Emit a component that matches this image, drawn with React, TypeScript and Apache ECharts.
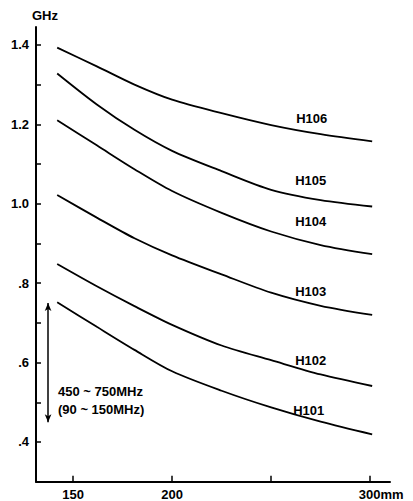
import React, { useEffect, useRef } from 'react';
import * as echarts from 'echarts';

// Pole length (mm) at which the curves are sampled
const lengthsMm = [142, 162, 181, 200, 225, 250, 275, 301];
const seriesNames = ['H101', 'H102', 'H103', 'H104', 'H105', 'H106'];
// Frequency (GHz)
const h101 = [0.752, 0.69, 0.632, 0.578, 0.529, 0.487, 0.451, 0.419];
const h102 = [0.848, 0.792, 0.742, 0.695, 0.643, 0.606, 0.57, 0.541];
const h103 = [1.022, 0.965, 0.913, 0.87, 0.822, 0.776, 0.743, 0.72];
const h104 = [1.21, 1.147, 1.087, 1.032, 0.977, 0.93, 0.896, 0.873];
const h105 = [1.328, 1.25, 1.186, 1.133, 1.082, 1.035, 1.009, 0.993];
const h106 = [1.393, 1.346, 1.3, 1.262, 1.228, 1.198, 1.175, 1.157];
const seriesValues = [h101, h102, h103, h104, h105, h106];

const yTickValues = [0.4, 0.5, 0.6, 0.7, 0.8, 0.9, 1.0, 1.1, 1.2, 1.3, 1.4];
const yLabelValues = [0.4, 0.6, 0.8, 1.0, 1.2, 1.4];
const xTickValues = [150, 200, 250, 300];
const xLabelValues = [150, 200, 300];

// range arrow: 450~750 MHz
const rangeLengthMm = 137.4;
const rangeGHz = [0.45, 0.75];
const rangeTexts = ['450 ~ 750MHz', '(90 ~ 150MHz)'];

// label anchor index along each curve and pixel offsets (style)
const labelIndex = 6;
const labelOffsets = [[-12, -11], [-10, -14], [-10, -14], [-10, -24], [-10, -20], [-9, -16]];

const FONT = '"Liberation Sans", Arial, sans-serif';

export default function App() {
  const ref = useRef<HTMLDivElement>(null);
  useEffect(() => {
    document.body.style.margin = '0';
    const chart = echarts.init(ref.current!, null, { renderer: 'svg' });
    const lineSeries = seriesNames.map((name, i) => ({
      type: 'line',
      name,
      data: lengthsMm.map((x, j) => [x, seriesValues[i][j]]),
      smooth: 0.3,
      showSymbol: false,
      lineStyle: { color: '#000', width: 1.8 },
      markPoint: {
        silent: true,
        symbol: 'circle',
        symbolSize: 0,
        data: [
          {
            coord: [lengthsMm[labelIndex], seriesValues[i][labelIndex]],
            label: {
              show: true,
              position: 'inside',
              formatter: name,
              offset: labelOffsets[i],
              color: '#000',
              fontSize: 13,
              fontWeight: 'bold',
              fontFamily: FONT,
            },
          },
        ],
      },
    }));
    chart.setOption({
      animation: false,
      backgroundColor: '#fff',
      grid: { left: 36, right: 23, top: 27, bottom: 19.3 },
      xAxis: {
        type: 'value',
        min: 131.3,
        max: 310,
        axisLine: { lineStyle: { color: '#000', width: 2 } },
        axisTick: { inside: true, length: 6, customValues: xTickValues, lineStyle: { color: '#000', width: 1.5 } },
        axisLabel: {
          customValues: xLabelValues,
          margin: 6,
          color: '#000',
          fontSize: 13,
          fontWeight: 'bold',
          fontFamily: FONT,
          formatter: (v: number) => (v === 300 ? '{s|}300mm' : String(v)),
          rich: { s: { width: 22 } },
        },
        splitLine: { show: false },
      },
      yAxis: {
        type: 'value',
        min: 0.3,
        max: 1.445,
        name: 'GHz',
        nameLocation: 'end',
        nameGap: 5,
        nameTextStyle: { align: 'left', color: '#000', fontSize: 13, fontWeight: 'bold', fontFamily: FONT, padding: [0, 0, 0, -4] },
        axisLine: { lineStyle: { color: '#000', width: 2 } },
        axisTick: { inside: true, length: 5, customValues: yTickValues, lineStyle: { color: '#000', width: 1.5 } },
        axisLabel: {
          customValues: yLabelValues,
          margin: 7,
          color: '#000',
          fontSize: 13,
          fontWeight: 'bold',
          fontFamily: FONT,
          formatter: (v: number) => {
            const s = v.toFixed(1);
            return s.startsWith('0') ? s.slice(1) : s;
          },
        },
        splitLine: { show: false },
      },
      series: [
        ...lineSeries,
        {
          type: 'line',
          name: 'range',
          data: [],
          markLine: {
            silent: true,
            symbol: ['arrow', 'arrow'],
            symbolSize: [5, 8],
            label: { show: false },
            lineStyle: { color: '#000', width: 1.5, type: 'solid' },
            data: [[{ coord: [rangeLengthMm, rangeGHz[0]] }, { coord: [rangeLengthMm, rangeGHz[1]] }]],
          },
        },
      ],
      graphic: [
        {
          type: 'text',
          left: 58,
          top: 385,
          style: { text: rangeTexts[0], font: `bold 13px ${FONT}`, fill: '#000' },
        },
        {
          type: 'text',
          left: 58,
          top: 403,
          style: { text: rangeTexts[1], font: `bold 13px ${FONT}`, fill: '#000' },
        },
      ],
    });
    return () => chart.dispose();
  }, []);
  return <div ref={ref} style={{ width: 413, height: 501 }} />;
}
